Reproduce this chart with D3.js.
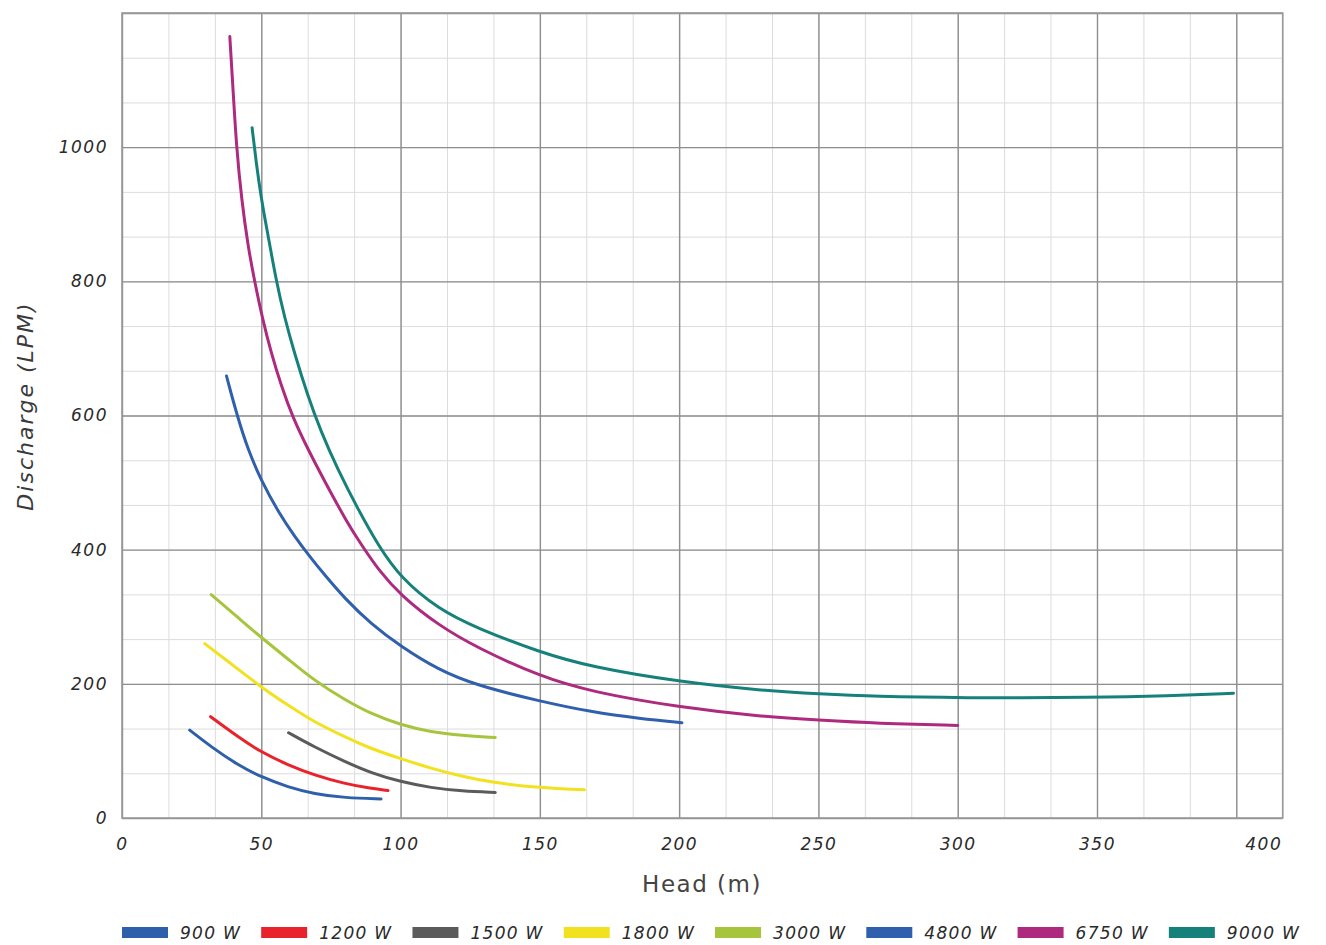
<!DOCTYPE html>
<html>
<head>
<meta charset="utf-8">
<script src="https://cdn.jsdelivr.net/npm/d3@7"></script>
<style>
	body { margin: 0; background: #fff; }
	svg { display: block; }
	.ticks text {
		font-family: "DejaVu Sans", sans-serif;
		font-style: italic;
		font-size: 17px;
		letter-spacing: 1.5px;
		fill: #2a2a2a;
	}
	.labels__text {
		font-family: "DejaVu Sans", sans-serif;
		fill: #3a3a3a;
	}
	.legend text {
		font-family: "DejaVu Sans", sans-serif;
		font-style: italic;
		font-size: 17px;
		letter-spacing: 1.3px;
		fill: #2a2a2a;
	}
</style>
</head>
<body>
<svg></svg>
<script>
// series names and colours
const seriesNames = ['900 W', '1200 W', '1500 W', '1800 W', '3000 W', '4800 W', '6750 W', '9000 W'];
const seriesColors = ['#2e5fab', '#e8232b', '#5b5b5b', '#f2e11e', '#a6c53c', '#3060ad', '#ad2a7e', '#16817a'];

// [head (m), discharge (LPM)]
const w900 = [[24.3, 131], [32, 106], [41.6, 79], [50, 61], [59.6, 46], [69, 36], [80, 30], [93, 28.5]];
const w1200 = [[31.8, 151], [41.6, 121], [50, 98], [59.6, 79], [69, 64], [80, 51], [89.5, 44], [95.5, 41]];
const w1500 = [[59.8, 127], [69, 106], [80, 84], [89.5, 67], [100, 54], [111, 45], [122, 40], [134, 38]];
const w1800 = [[29.7, 260], [41.6, 222], [50, 195], [59.6, 168], [69, 143], [80, 121], [89.5, 103], [100, 88.5],
	[111, 74], [122, 62], [132.5, 53], [150, 45], [166, 42]];
const w3000 = [[32, 333], [41.6, 299], [50, 269], [59.6, 237], [69, 205], [80, 176], [89.5, 155], [100, 139],
	[111, 128], [122, 123], [134, 120]];
const w4800 = [[37.5, 659], [41.1, 603], [45.2, 549], [50, 503], [56, 457], [61.9, 420], [67.9, 387], [72.6, 363],
	[80, 327], [89.5, 289], [100, 256], [113.5, 221], [127, 198], [150, 174], [168.5, 158], [186, 148], [201, 142]];
const w6750 = [[38.7, 1165], [39.9, 1083], [41.1, 1000], [42.9, 923], [45.2, 853], [47.6, 800], [50.6, 741],
	[53.6, 693], [57.1, 645], [61.3, 597], [66.7, 550], [72.6, 503], [81, 439], [86, 407], [92, 370], [100, 332],
	[113.7, 287], [127.4, 254], [150, 211], [168.5, 188], [200, 165], [230, 151], [250, 146], [271, 141], [300, 138]];
const w9000 = [[46.7, 1029], [48.2, 976], [50, 923], [52.4, 869], [55.4, 800], [58.3, 747], [61.9, 693],
	[66.7, 629], [71.4, 576], [77.4, 520], [84.5, 462], [92, 406], [100, 358], [113.7, 311], [127.4, 283],
	[150, 247], [168.5, 225], [200, 203], [230, 190], [250, 185], [271, 181], [300, 179], [350, 179.5],
	[375, 182], [399, 186]];
const seriesData = [w900, w1200, w1500, w1800, w3000, w4800, w6750, w9000];

// axis ticks
const xTicks = [0, 50, 100, 150, 200, 250, 300, 350, 400];
const yTicks = [0, 200, 400, 600, 800, 1000];
const xMax = 400 + 50 / 3;
const yMax = 1200;

render();

function render() {
	const width = 1326;
	const height = 945;
	const margin = { top: 13, left: 122 };
	const innerWidth = 1160.7;
	const innerHeight = 805;

	const svg = d3.select('svg')
		.attr('width', width)
		.attr('height', height);

	const xScale = d3.scaleLinear().domain([0, xMax]).range([0, innerWidth]);
	const yScale = d3.scaleLinear().domain([0, yMax]).range([innerHeight, 0]);

	const g = svg.append('g')
		.attr('transform', `translate(${margin.left},${margin.top})`);

	// minor grid, every third of a major step
	const xMinor = d3.range(0, xMax + 0.01, 50 / 3);
	const yMinor = d3.range(0, yMax + 0.01, 200 / 3);

	const minorX = g.append('g')
		.attr('transform', `translate(0,${innerHeight})`)
		.call(d3.axisBottom(xScale).tickValues(xMinor).tickSize(-innerHeight).tickFormat(''));
	const minorY = g.append('g')
		.call(d3.axisLeft(yScale).tickValues(yMinor).tickSize(-innerWidth).tickFormat(''));
	[minorX, minorY].forEach(a => {
		a.select('.domain').remove();
		a.selectAll('line').attr('stroke', '#dcdcdc').attr('stroke-width', 1);
	});

	// major grid
	const majorX = g.append('g')
		.attr('transform', `translate(0,${innerHeight})`)
		.call(d3.axisBottom(xScale).tickValues(xTicks).tickSize(-innerHeight).tickFormat(''));
	const majorY = g.append('g')
		.call(d3.axisLeft(yScale).tickValues(yTicks.concat([yMax])).tickSize(-innerWidth).tickFormat(''));
	[majorX, majorY].forEach(a => {
		a.select('.domain').remove();
		a.selectAll('line').attr('stroke', '#8e8e8e').attr('stroke-width', 1.4);
	});

	// frame
	g.append('rect')
		.attr('width', innerWidth)
		.attr('height', innerHeight)
		.attr('fill', 'none')
		.attr('stroke', '#9a9a9a')
		.attr('stroke-width', 1.6);

	// tick labels
	const xAxisGroup = g.append('g')
		.attr('class', 'ticks')
		.attr('transform', `translate(0,${innerHeight})`)
		.call(d3.axisBottom(xScale).tickValues(xTicks).tickSize(0).tickPadding(20));
	xAxisGroup.select('.domain').remove();
	// the last label sits between the 400 line and the frame in the original
	xAxisGroup.selectAll('.tick text')
		.filter(d => d === 400)
		.attr('dx', 27);

	const yAxisGroup = g.append('g')
		.attr('class', 'ticks')
		.call(d3.axisLeft(yScale).tickValues(yTicks).tickFormat(d3.format('d')).tickSize(0).tickPadding(14));
	yAxisGroup.select('.domain').remove();

	// axis titles
	g.append('text')
		.attr('class', 'labels__text')
		.attr('x', 580)
		.attr('y', 879)
		.attr('text-anchor', 'middle')
		.style('font-size', '23px')
		.style('letter-spacing', '1.5px')
		.style('fill', '#444')
		.text('Head (m)');

	g.append('text')
		.attr('class', 'labels__text')
		.attr('transform', 'rotate(-90)')
		.attr('x', -(406 - margin.top))
		.attr('y', 33 - margin.left)
		.attr('text-anchor', 'middle')
		.style('font-size', '22px')
		.style('font-style', 'italic')
		.style('letter-spacing', '2px')
		.text('Discharge (LPM)');

	// curves
	const lineGenerator = d3.line()
		.x(d => xScale(d[0]))
		.y(d => yScale(d[1]))
		.curve(d3.curveBasis);

	g.selectAll('.line')
		.data(seriesData)
		.enter().append('path')
		.attr('class', 'line')
		.attr('fill', 'none')
		.attr('stroke', (d, i) => seriesColors[i])
		.attr('stroke-width', 3)
		.attr('stroke-linecap', 'round')
		.attr('d', d => lineGenerator(d));

	// legend
	const legend = svg.append('g').attr('class', 'legend');
	let lx = 122;
	seriesNames.forEach((name, i) => {
		legend.append('rect')
			.attr('x', lx)
			.attr('y', 927)
			.attr('width', 46)
			.attr('height', 11)
			.attr('fill', seriesColors[i]);
		const t = legend.append('text')
			.attr('x', lx + 58)
			.attr('y', 939)
			.text(name);
		lx += 58 + t.node().getComputedTextLength() + 20;
	});
}
</script>
</body>
</html>
